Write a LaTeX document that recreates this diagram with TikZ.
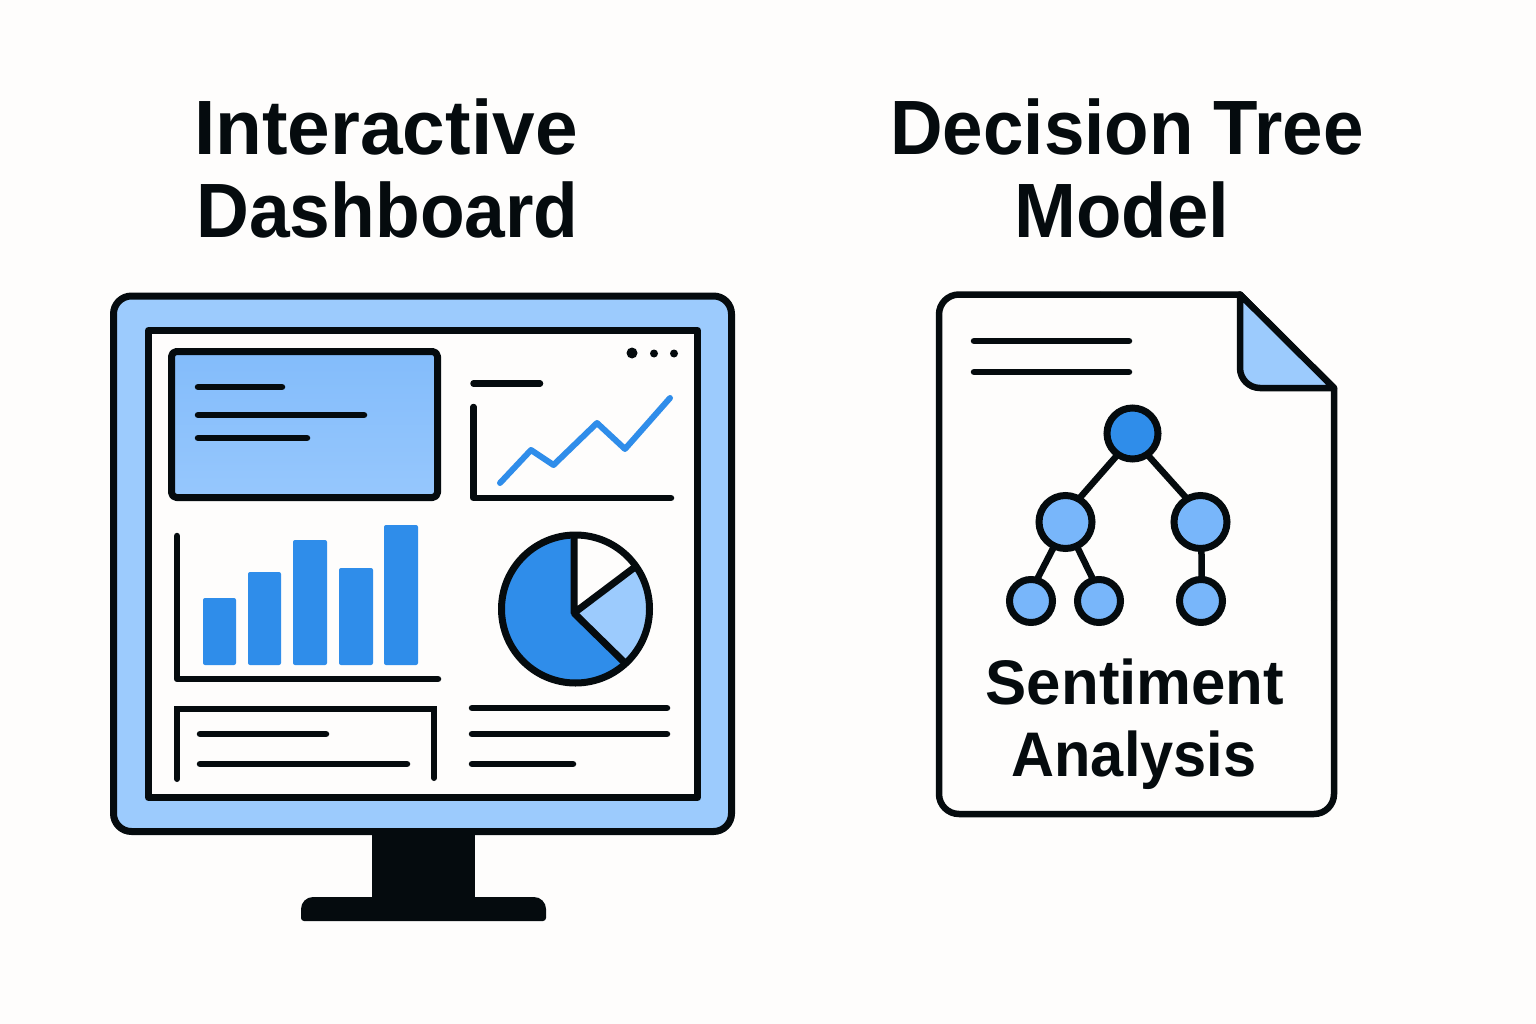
\documentclass[tikz,border=0pt]{standalone}
\usepackage{fontspec}
\usepackage{graphicx}
\setmainfont{Liberation Sans}
\definecolor{ink}{HTML}{050B0E}
\definecolor{paper}{HTML}{FEFDFC}
\definecolor{frameblue}{HTML}{9CCBFD}
\definecolor{midblue}{HTML}{78B6FA}
\definecolor{deepblue}{HTML}{2F8DEA}
\definecolor{boxtop}{HTML}{83BCFB}
\definecolor{boxbot}{HTML}{96C7FD}
\tikzset{
  rule/.style={draw=ink,line width=6.5pt,line cap=round},
  outline/.style={draw=ink,line width=7pt,line join=round},
  bar/.style={fill=deepblue,rounded corners=2pt},
  title/.style={anchor=base,font=\bfseries\fontsize{77}{77}\selectfont,text=ink,inner sep=0pt},
  subtitle/.style={anchor=base,font=\bfseries\fontsize{63}{63}\selectfont,text=ink,inner sep=0pt},
  root/.style={circle,draw=ink,line width=7pt,fill=deepblue,minimum size=51pt,inner sep=0pt,outer sep=0pt},
  mid/.style={circle,draw=ink,line width=7pt,fill=midblue,minimum size=53pt,inner sep=0pt,outer sep=0pt},
  leaf/.style={circle,draw=ink,line width=7pt,fill=midblue,minimum size=43pt,inner sep=0pt,outer sep=0pt},
  branch/.style={draw=ink,line width=6.5pt}
}
\begin{document}
\begin{tikzpicture}[x=1pt,y=-1pt]
\useasboundingbox (0,0) rectangle (1536,1024);
\fill[paper] (0,0) rectangle (1536,1024);
% titles
\node[title] (t1) at (386,155) {\scalebox{0.995}[1]{Interactive}};
\node[title] (t2) at (387.5,238) {\scalebox{0.95}[1]{Dashboard}};
\node[title] (t3) at (1127,155) {\scalebox{0.945}[1]{Decision Tree}};
\node[title] (t4) at (1122,238) {\scalebox{0.965}[1]{Model}};
% monitor stand
\fill[ink] (372,825) rectangle (475,900);
\fill[ink] (304,921) arc[start angle=90,end angle=180,radius=3] -- (301,909) arc[start angle=180,end angle=270,radius=12] -- (534,897) arc[start angle=270,end angle=360,radius=12] -- (546,918) arc[start angle=0,end angle=90,radius=3] -- cycle;
% monitor
\draw[draw=ink,line width=7pt,fill=frameblue,rounded corners=18pt] (113.5,296) rectangle (731.5,831.5);
\draw[outline,fill=paper] (148.5,330.5) rectangle (697.5,797.5);
% blue box
\draw[outline,top color=boxtop,bottom color=boxbot,rounded corners=5pt] (171.5,351.5) rectangle (437.5,497.5);
\draw[rule] (198,387) -- (282,387);
\draw[rule] (198,415) -- (364,415);
\draw[rule] (198,438) -- (307,438);
% dots
\fill[ink] (632,353) circle (5.5);
\fill[ink] (654,353.5) circle (4);
\fill[ink] (674,353.5) circle (4);
% line chart
\draw[rule] (473.5,383.5) -- (540,383.5);
\draw[rule,line join=round] (473.5,407) -- (473.5,498) -- (671,498);
\draw[draw=deepblue,line width=6pt,line cap=round,line join=round] (500,483) -- (531,450) -- (553.5,465) -- (597,423) -- (625,449) -- (670,398);
% bars
\fill[bar] (203,598) rectangle (236,665);
\fill[bar] (248,572) rectangle (281,665);
\fill[bar] (293,540) rectangle (327,665);
\fill[bar] (339,568) rectangle (373,665);
\fill[bar] (384,525) rectangle (418,665);
\draw[rule,line join=round] (177,536) -- (177,679) -- (438,679);
% pie
\fill[deepblue] (575.5,609) circle (74);
\begin{scope}
\clip (575.5,609) circle (74);
\fill[paper] (574,613) -- (574,520) -- (660,520) -- (660,548) -- cycle;
\fill[frameblue] (574,613) -- (660,548) -- (660,700) -- (640,678) -- cycle;
\end{scope}
\draw[draw=ink,line width=7pt,line join=round] (574,535) -- (574,613) -- (635,567);
\draw[draw=ink,line width=7pt] (574,613) -- (625,663);
\draw[draw=ink,line width=7pt] (575.5,609) circle (74);
% bottom box
\draw[rule,line width=6pt,line join=miter,line cap=round] (177,779) -- (177,709) -- (434,709) -- (434,778);
\draw[rule] (200,734) -- (326,734);
\draw[rule] (200,764) -- (407,764);
\draw[rule] (472,708) -- (667,708);
\draw[rule] (472,734) -- (667,734);
\draw[rule] (472,764) -- (573,764);
% document
\draw[draw=ink,line width=6.5pt,fill=paper,line join=round,rounded corners=20pt] (1100,294.5) -- (939,294.5) -- (939,814) -- (1334,814) -- (1334,600);
\fill[paper] (1000,298) rectangle (1240,330);
\draw[draw=ink,line width=6.5pt,line join=round] (1100,294.5) -- (1240,294.5) -- (1334,388) -- (1334,600);
\draw[draw=ink,line width=6.5pt,fill=frameblue,line join=round] (1240,294.5) -- (1240,368) arc[start angle=180,end angle=90,radius=20] -- (1334,388) -- cycle;
\draw[rule] (974,341) -- (1129,341);
\draw[rule] (974,372) -- (1129,372);
% tree
\node[root] (r) at (1132.5,433.5) {};
\node[mid] (a) at (1065.5,522) {};
\node[mid] (b) at (1200.5,522) {};
\node[leaf] (c) at (1031,601) {};
\node[leaf] (d) at (1099,601) {};
\node[leaf] (e) at (1201,601) {};
\draw[branch] (r.-125) -- (a.60);
\draw[branch] (r.-55) -- (b.120);
\draw[branch] (a.-115) -- (c.75);
\draw[branch] (a.-65) -- (d.105);
\draw[branch] (b.-88) -- (e.88);
% label
\node[subtitle] (s1) at (1135,704) {\scalebox{0.98}[1]{Sentiment}};
\node[subtitle] (s2) at (1134,776) {\scalebox{0.945}[1]{Analysis}};
\end{tikzpicture}
\end{document}
